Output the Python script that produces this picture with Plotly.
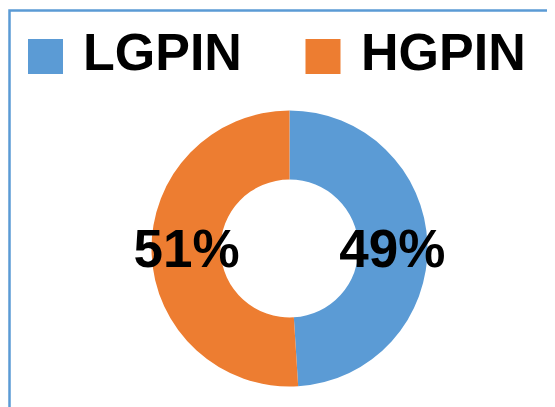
import plotly.graph_objects as go

# ---- data ----
categories = ["LGPIN", "HGPIN"]
values = [49, 51]
colors = ["#5B9BD5", "#ED7D31"]

W, H = 555, 407
OFF = 8  # page body margin in the browser


def px(x):
    return (x - OFF) / W


def py(y):
    return 1 - (y - OFF) / H


fig = go.Figure()
fig.add_trace(go.Pie(
    labels=categories,
    values=values,
    sort=False,
    direction="clockwise",
    rotation=0,
    hole=0.5,
    marker=dict(colors=colors, line=dict(width=0)),
    texttemplate="%{percent:.0%}",
    textposition="inside",
    insidetextorientation="horizontal",
    textfont=dict(family="Liberation Sans", size=53, color="#000000", weight="bold"),
    domain=dict(x=[px(151.5), px(427.5)], y=[py(386.5), py(110.5)]),
    showlegend=False,
    hoverinfo="label+percent",
))

shapes = [dict(type="rect", xref="paper", yref="paper",
               x0=px(9.5), x1=px(W + 40), y0=py(H + 40), y1=py(10.5),
               line=dict(color="#5B9BD5", width=2.5), fillcolor="rgba(0,0,0,0)")]
annotations = []
legend_sq_x = [28, 305.5]
legend_txt_x = [81, 359]
for cat, col, sx, tx in zip(categories, colors, legend_sq_x, legend_txt_x):
    shapes.append(dict(type="rect", xref="paper", yref="paper",
                       x0=px(sx), x1=px(sx + 35), y0=py(74), y1=py(39),
                       line=dict(width=0), fillcolor=col))
    annotations.append(dict(text=cat, xref="paper", yref="paper",
                            x=px(tx), y=py(52), xanchor="left", yanchor="middle",
                            showarrow=False,
                            font=dict(family="Liberation Sans", size=52,
                                      color="#000000", weight="bold")))

fig.update_layout(
    width=W, height=H,
    margin=dict(l=0, r=0, t=0, b=0),
    paper_bgcolor="#FFFFFF",
    plot_bgcolor="#FFFFFF",
    shapes=shapes,
    annotations=annotations,
    uniformtext=dict(minsize=53, mode="show"),
)

fig.write_html("out.html")
